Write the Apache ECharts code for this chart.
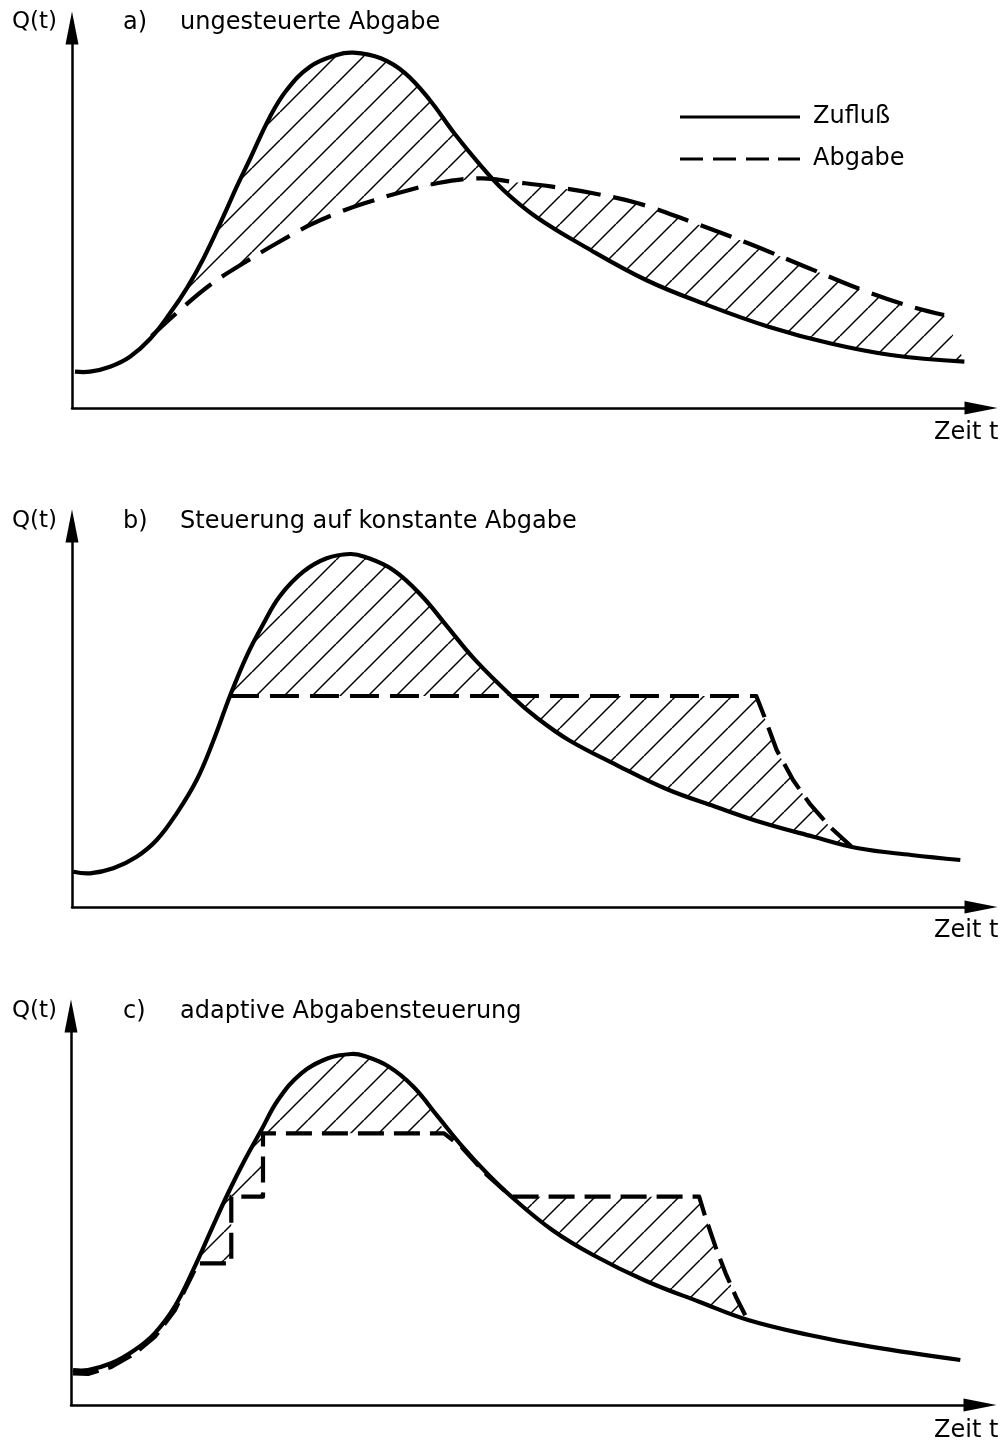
<!DOCTYPE html>
<html>
<head>
<meta charset="utf-8">
<script src="https://cdn.jsdelivr.net/npm/echarts@6/dist/echarts.min.js"></script>
<style>
html,body{margin:0;padding:0;background:#fff;}
#chart{width:1008px;height:1447px;}
</style>
</head>
<body>
<div id="chart"></div>
<script>
// ---------- DATA (t = time units, Q = discharge units) ----------
// Panel a) ungesteuerte Abgabe
const inflowA = [[0.32,9.17],[1.94,9.17],[4.10,10.43],[6.25,12.96],[8.41,17.43],[10.56,23.93],[12.37,30.24],[14.15,37.65],[16.31,48.33],[17.76,55.91],[19.19,62.91],[21.35,73.60],[23.15,80.34],[25.66,86.23],[28.54,89.19],[30.33,89.77],[33.29,88.35],[35.93,84.56],[38.57,77.82],[41.21,69.40],[43.86,61.82],[46.50,55.08],[50.01,48.33],[55.29,40.75],[61.89,32.34],[68.49,26.02],[75.10,20.54],[81.69,16.35],[88.29,13.39],[96.21,11.70]];
const outflowA = [[8.59,18.20],[11.64,24.76],[14.88,31.08],[18.47,36.56],[22.07,41.61],[25.66,46.24],[28.54,49.19],[31.53,51.72],[36.37,55.08],[40.33,57.18],[44.30,58.03],[47.37,57.18],[51.77,55.91],[56.18,54.25],[61.02,51.72],[66.73,47.07],[72.90,41.61],[79.06,35.70],[85.21,29.81],[90.49,25.59],[94.02,23.50]];
const hatchA = [[8.59,96.21]];

// Panel b) Steuerung auf konstante Abgabe
const inflowB = [[0.14,8.89],[1.94,8.49],[4.45,9.75],[6.97,12.67],[9.13,16.88],[11.29,23.61],[13.44,32.00],[15.23,41.82],[17.03,53.16],[18.83,63.24],[20.62,71.30],[22.42,78.36],[24.94,84.48],[27.46,87.86],[29.97,88.94],[31.53,88.26],[34.62,84.91],[37.69,78.44],[40.33,71.03],[43.41,62.38],[47.37,53.16],[50.01,47.87],[53.54,42.08],[58.82,35.65],[64.09,29.73],[69.37,25.27],[74.65,21.09],[79.94,17.71],[84.78,14.79],[90.49,13.10],[95.77,11.84]];
const outflowB = [[17.03,53.16],[73.77,53.16],[74.65,47.95],[75.97,39.56],[77.74,32.00],[79.50,26.13],[81.69,20.23],[84.00,15.30]];
const hatchB = [[17.03,84.00]];

// Panel c) adaptive Abgabensteuerung
const inflowC = [[0.22,8.64],[1.83,8.64],[4.34,10.29],[6.87,13.57],[9.02,17.69],[11.18,24.26],[13.34,34.13],[15.12,43.19],[16.93,52.25],[18.73,60.46],[20.52,67.87],[22.32,75.27],[24.83,81.86],[27.71,85.56],[30.22,86.62],[31.64,86.13],[34.28,83.49],[36.92,78.55],[39.56,71.15],[42.20,63.75],[44.84,57.18],[47.48,51.41],[51.88,43.19],[56.29,37.02],[62.00,30.60],[67.72,25.49],[73.00,20.98],[79.60,17.28],[86.20,14.39],[95.88,11.11]];
const outflowC = [[0.22,7.77],[1.83,7.65],[4.34,9.38],[6.87,12.71],[9.02,16.78],[11.18,23.32],[13.69,34.97],[17.28,34.97],[17.28,51.41],[20.70,51.41],[20.70,67.05],[40.22,67.05],[42.20,63.43],[44.84,56.76],[47.48,51.41],[67.72,51.41],[68.38,46.47],[69.48,39.07],[70.58,32.50],[71.68,26.73],[72.90,21.20]];
const hatchC = [[13.69,40.22],[47.48,73.00]];

const panelTitles = ['a)', 'b)', 'c)'];
const panelNames = ['ungesteuerte Abgabe', 'Steuerung auf konstante Abgabe', 'adaptive Abgabensteuerung'];
const yLabel = 'Q(t)';
const xLabel = 'Zeit t';
const legendNames = ['Zufluß', 'Abgabe'];

// ---------- STYLE ----------
const FONT = 'DejaVu Sans';
const hatchCanvas = document.createElement('canvas');
(function(){
  const s = 28;
  hatchCanvas.width = s; hatchCanvas.height = s;
  const ctx = hatchCanvas.getContext('2d');
  ctx.strokeStyle = '#000';
  ctx.lineWidth = 1.5;
  for (let k = -1; k <= 1; k++) {
    ctx.beginPath();
    ctx.moveTo(k * s, s);
    ctx.lineTo(k * s + s, 0);
    ctx.stroke();
  }
})();
const hatchFill = { image: hatchCanvas, repeat: 'repeat' };

const panels = [
  { inflow: inflowA, outflow: outflowA, hatch: hatchA, smoothOut: 0.4, dash: [33, 13],
    grid: { left: 72, top: 28, width: 909, height: 380 }, textTop: 11, zeitTop: 421 },
  { inflow: inflowB, outflow: outflowB, hatch: hatchB, smoothOut: 0, dash: [29, 11],
    grid: { left: 72, top: 526, width: 909, height: 381 }, textTop: 510, zeitTop: 919 },
  { inflow: inflowC, outflow: outflowC, hatch: hatchC, smoothOut: 0, dash: [26, 10],
    grid: { left: 71, top: 1016, width: 909, height: 389 }, textTop: 1000, zeitTop: 1419 }
];

const grids = [], xAxes = [], yAxes = [], series = [], titles = [];
function axisLine() {
  return { show: true, onZero: false, symbol: ['none', 'triangle'], symbolSize: [13, 33],
    lineStyle: { color: '#000', width: 2.5 } };
}
function curveSeries(name, i, pts, z, smooth, dash) {
  return {
    type: 'custom', name: name, xAxisIndex: i, yAxisIndex: i, z: z, silent: true, clip: false,
    itemStyle: { color: '#000' },
    data: pts,
    renderItem: function (params, api) {
      if (params.dataIndex !== 0) return null;
      return {
        type: 'polyline',
        shape: { points: pts.map(d => api.coord(d)), smooth: smooth },
        style: { stroke: '#000', fill: null, lineWidth: 4.2, lineDash: dash || null, lineJoin: 'round', lineCap: 'butt' }
      };
    }
  };
}

panels.forEach((p, i) => {
  grids.push(p.grid);
  xAxes.push({ type: 'value', gridIndex: i, min: 0, max: 98, axisLine: axisLine(),
    axisTick: { show: false }, axisLabel: { show: false }, splitLine: { show: false } });
  yAxes.push({ type: 'value', gridIndex: i, min: 0, max: 96, axisLine: axisLine(),
    axisTick: { show: false }, axisLabel: { show: false }, splitLine: { show: false } });

  const inflow = p.inflow, outflow = p.outflow;
  series.push({
    type: 'custom', name: 'hatch' + i, xAxisIndex: i, yAxisIndex: i, z: 1, silent: true, clip: false,
    data: p.hatch,
    renderItem: function (params, api) {
      const r = p.hatch[params.dataIndex];
      const inR = d => d[0] >= r[0] - 1e-9 && d[0] <= r[1] + 1e-9;
      const pts = [];
      outflow.forEach(d => { if (inR(d)) pts.push(api.coord(d)); });
      inflow.slice().reverse().forEach(d => { if (inR(d)) pts.push(api.coord(d)); });
      return { type: 'polygon', shape: { points: pts }, style: { fill: hatchFill, stroke: null } };
    }
  });
  series.push(curveSeries(legendNames[0], i, inflow, 4, 0.4, null));
  series.push(curveSeries(legendNames[1], i, outflow, 3, p.smoothOut, p.dash));

  const ts = { fontFamily: FONT, fontSize: 24, fontWeight: 'normal', color: '#000' };
  titles.push({ text: yLabel, left: 12, top: p.textTop, padding: 0, textStyle: Object.assign({}, ts, { fontSize: 23 }) });
  titles.push({ text: panelTitles[i], left: 123, top: p.textTop, padding: 0, textStyle: ts });
  titles.push({ text: panelNames[i], left: 180, top: p.textTop, padding: 0, textStyle: ts });
  titles.push({ text: xLabel, left: 934, top: p.zeitTop, padding: 0, textStyle: ts });
});

const chart = echarts.init(document.getElementById('chart'), null, { renderer: 'canvas' });
chart.setOption({
  backgroundColor: '#fff',
  animation: false,
  title: titles,
  grid: grids,
  xAxis: xAxes,
  yAxis: yAxes,
  legend: {
    orient: 'vertical', left: 680, top: 104, padding: 0, itemWidth: 120, itemHeight: 3, itemGap: 16,
    selectedMode: false,
    textStyle: { fontFamily: FONT, fontSize: 24, color: '#000', lineHeight: 26, padding: [0, 0, 0, 8] },
    data: [
      { name: legendNames[0], icon: 'path://M0,0H120V3H0Z', itemStyle: { color: '#000' } },
      { name: legendNames[1], icon: 'path://M0,0H23V3H0Z M33,0H56V3H33Z M66,0H89V3H66Z M98,0H120V3H98Z', itemStyle: { color: '#000' } }
    ]
  },
  series: series
});
</script>
</body>
</html>
